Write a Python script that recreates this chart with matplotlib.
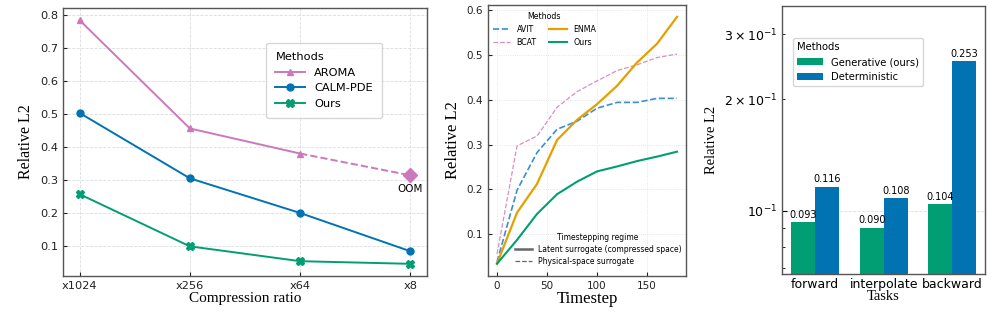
import matplotlib
matplotlib.use("Agg")
import matplotlib.pyplot as plt
from matplotlib.lines import Line2D

# panel 1: compression ratio sweep
ratios = ["x1024", "x256", "x64", "x8"]
aroma = [0.785, 0.457, 0.381, 0.315]
calm_pde = [0.504, 0.306, 0.201, 0.085]
ours_cr = [0.258, 0.100, 0.055, 0.047]

# panel 2: rollout error vs timestep
timesteps = [0, 20, 40, 60, 80, 100, 120, 140, 160, 180]
avit = [0.038, 0.198, 0.282, 0.334, 0.352, 0.381, 0.394, 0.394, 0.403, 0.403]
bcat = [0.056, 0.297, 0.319, 0.383, 0.418, 0.442, 0.465, 0.478, 0.494, 0.502]
enma = [0.034, 0.148, 0.212, 0.310, 0.355, 0.390, 0.431, 0.483, 0.525, 0.585]
ours_ts = [0.034, 0.087, 0.145, 0.189, 0.217, 0.240, 0.251, 0.263, 0.273, 0.284]

# panel 3: tasks
tasks = ["forward", "interpolate", "backward"]
generative = [0.093, 0.090, 0.104]
deterministic = [0.116, 0.108, 0.253]

GREEN = "#029e73"
BLUE = "#0173b2"
PINK = "#cc78bc"
ORANGE = "#e69f00"
LBLUE = "#3b8fd0"
LPINK = "#dc8cc4"
SPINE = "#555555"
serif = "Liberation Serif"

fig = plt.figure(figsize=(9.97, 3.17), dpi=100)

def style_axes(ax, grid_ls="--"):
    for s in ax.spines.values():
        s.set_color(SPINE)
        s.set_linewidth(1.0)
    ax.tick_params(direction="in", length=3, colors="#222222")
    ax.grid(True, linestyle=grid_ls, color="#dddddd", linewidth=0.6)
    ax.set_axisbelow(True)

# ---- panel 1
ax1 = fig.add_axes([0.0632, 0.1293, 0.3651, 0.8455])
style_axes(ax1)
xs = list(range(len(ratios)))
ax1.plot(xs[:3], aroma[:3], color=PINK, marker="^", ms=5, lw=1.4, label="AROMA")
ax1.plot(xs[2:], aroma[2:], color=PINK, lw=1.4, ls="--")
ax1.plot(xs[3], aroma[3], color=PINK, marker="D", ms=7, ls="none")
ax1.plot(xs, calm_pde, color=BLUE, marker="o", ms=5, lw=1.4, label="CALM-PDE")
ax1.plot(xs, ours_cr, color=GREEN, marker="X", ms=6, lw=1.4, label="Ours")
ax1.text(xs[3], aroma[3] - 0.025, "OOM", ha="center", va="top", fontsize=7.5)
ax1.set_xticks(xs)
ax1.set_xticklabels(ratios)
ax1.tick_params(labelsize=8.2)
ax1.set_xlabel("Compression ratio", family=serif, fontsize=11, labelpad=1)
ax1.set_ylabel("Relative L2", family=serif, fontsize=11.5, labelpad=4)
leg = ax1.legend(title="Methods", loc="upper right", bbox_to_anchor=(0.876, 0.87),
                 borderaxespad=0, fontsize=8.2, title_fontsize=8.2,
                 handlelength=2.6, borderpad=0.8, labelspacing=0.5)
leg._legend_box.align = "left"
leg.get_frame().set_edgecolor("#cccccc")

# ---- panel 2
ax2 = fig.add_axes([0.4895, 0.1293, 0.1986, 0.8565])
style_axes(ax2, grid_ls=":")
ax2.plot(timesteps, avit, color=LBLUE, ls="--", lw=1.2, label="AVIT")
ax2.plot(timesteps, bcat, color=LPINK, ls="--", lw=0.9, label="BCAT")
ax2.plot(timesteps, enma, color=ORANGE, lw=1.6, label="ENMA")
ax2.plot(timesteps, ours_ts, color=GREEN, lw=1.5, label="Ours")
ax2.set_yticks([0.1, 0.2, 0.3, 0.4, 0.5, 0.6])
ax2.tick_params(labelsize=7.5)
ax2.set_xlabel("Timestep", family=serif, fontsize=12, labelpad=0)
ax2.set_ylabel("Relative L2", family=serif, fontsize=12, labelpad=4)
leg1 = ax2.legend(title="Methods", loc="upper left", bbox_to_anchor=(0.0, 0.99),
                  borderaxespad=0.2, ncol=2, frameon=False, fontsize=5.7,
                  title_fontsize=5.7, handlelength=2.2, columnspacing=1.6,
                  labelspacing=0.5)
ax2.add_artist(leg1)
regime = [Line2D([], [], color="#666666", lw=1.8),
          Line2D([], [], color="#666666", lw=0.9, ls="--")]
ax2.legend(regime, ["Latent surrogate (compressed space)", "Physical-space surrogate"],
           title="Timestepping regime", loc="lower right", bbox_to_anchor=(1.0, 0.02),
           borderaxespad=0.2, frameon=False, fontsize=5.5, title_fontsize=5.5,
           handlelength=2.2, labelspacing=0.4)

# ---- panel 3
ax3 = fig.add_axes([0.784, 0.1356, 0.204, 0.8454])
for s in ax3.spines.values():
    s.set_color(SPINE)
    s.set_linewidth(1.0)
pos = list(range(len(tasks)))
w = 0.35
b1 = ax3.bar([p - w / 2 for p in pos], generative, width=w, color=GREEN,
             label="Generative (ours)")
b2 = ax3.bar([p + w / 2 for p in pos], deterministic, width=w, color=BLUE,
             label="Deterministic")
ax3.set_yscale("log")
ax3.set_ylim(0.0675, 0.357)
ax3.set_xlim(-0.49, 2.48)
ax3.bar_label(b1, labels=["%.3f" % v for v in generative], fontsize=7, padding=2)
ax3.bar_label(b2, labels=["%.3f" % v for v in deterministic], fontsize=7, padding=2)
ax3.set_xticks(pos)
ax3.set_xticklabels(tasks)
ax3.tick_params(axis="x", length=0, labelsize=9, pad=3)
ax3.tick_params(axis="y", which="both", direction="in", labelsize=9)
ax3.grid(True, axis="y", which="major", linestyle="--", color="#dddddd", linewidth=0.6)
ax3.set_axisbelow(True)
ax3.set_xlabel("Tasks", family=serif, fontsize=10.5, labelpad=-1)
ax3.set_ylabel("Relative L2", family=serif, fontsize=10.5, labelpad=4)
leg3 = ax3.legend(title="Methods", loc="upper left", bbox_to_anchor=(0.056, 0.88),
                  borderaxespad=0, fontsize=7.2, title_fontsize=7.2,
                  handlelength=2.6)
leg3._legend_box.align = "left"
leg3.get_frame().set_edgecolor("#cccccc")

fig.savefig("out.png", dpi=100)
